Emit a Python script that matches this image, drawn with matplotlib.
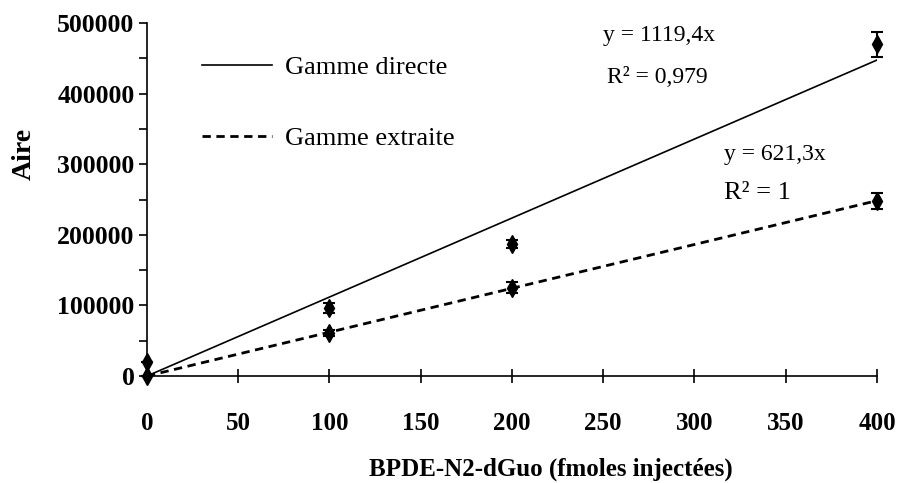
import matplotlib
matplotlib.use('Agg')
import matplotlib.pyplot as plt
import numpy as np

plt.rcParams['font.family'] = ['Liberation Serif', 'DejaVu Serif']

# data
x_direct = [0, 100, 200, 400]
y_direct = [20000, 97000, 187000, 470000]
err_direct = [0, 7000, 6000, 18000]

x_extr = [0, 100, 200, 400]
y_extr = [0, 61000, 125000, 248000]
err_extr = [0, 4000, 8000, 11000]

slope_direct = 1119.4
slope_extr = 621.3

fig = plt.figure(figsize=(8.99, 4.83), dpi=100)
ax = fig.add_axes([0.1635, 0.2215, 0.812, 0.7305])

xf = np.array([0, 400])
ax.plot(xf, slope_direct * xf, color='black', lw=1.2, label='Gamme directe')
ax.plot(xf, slope_extr * xf, color='black', lw=2, ls=(0, (3, 2)), label='Gamme extraite')

ax.errorbar(x_direct, y_direct, yerr=err_direct, fmt='d', color='black', ms=9,
            capsize=4, elinewidth=1.5, capthick=1.5, clip_on=False, zorder=5)
ax.errorbar(x_extr, y_extr, yerr=err_extr, fmt='d', color='black', ms=9,
            capsize=4, elinewidth=1.5, capthick=1.5, clip_on=False, zorder=5)

ax.set_xlim(0, 400)
ax.set_ylim(0, 500000)
ax.set_xticks(range(0, 401, 50))
ax.set_yticks(range(0, 500001, 50000))
ax.set_yticklabels([str(v) if v % 100000 == 0 else '' for v in range(0, 500001, 50000)])

for s in ['top', 'right']:
    ax.spines[s].set_visible(False)
ax.spines['left'].set_linewidth(1.2)
ax.spines['bottom'].set_linewidth(1.2)

ax.tick_params(axis='x', direction='inout', length=10, width=1.2, pad=21, labelsize=18)
ax.tick_params(axis='y', direction='out', length=6, width=1.2, pad=3, labelsize=18.5)
for t in ax.get_xticklabels() + ax.get_yticklabels():
    t.set_fontweight('bold')

ax.set_xlabel('BPDE-N2-dGuo (fmoles injectées)', fontsize=18, fontweight='bold')
ax.xaxis.set_label_coords(0.553, -0.232)
ax.set_ylabel('Aire', fontsize=20, fontweight='bold')
ax.yaxis.set_label_coords(-0.151, 0.629)

leg = ax.legend(loc='upper left', bbox_to_anchor=(0.061, 0.937), frameon=False, fontsize=19,
                handlelength=2.65, labelspacing=1.8, handletextpad=0.5, borderaxespad=0)

ax.text(250, 482000, 'y = 1119,4x', fontsize=17, va='center')
ax.text(252, 423000, 'R² = 0,979', fontsize=17, va='center')
ax.text(316, 314000, 'y = 621,3x', fontsize=17, va='center')
ax.text(316, 260000, 'R² = 1', fontsize=19, va='center')

fig.savefig('out.png', dpi=100)
